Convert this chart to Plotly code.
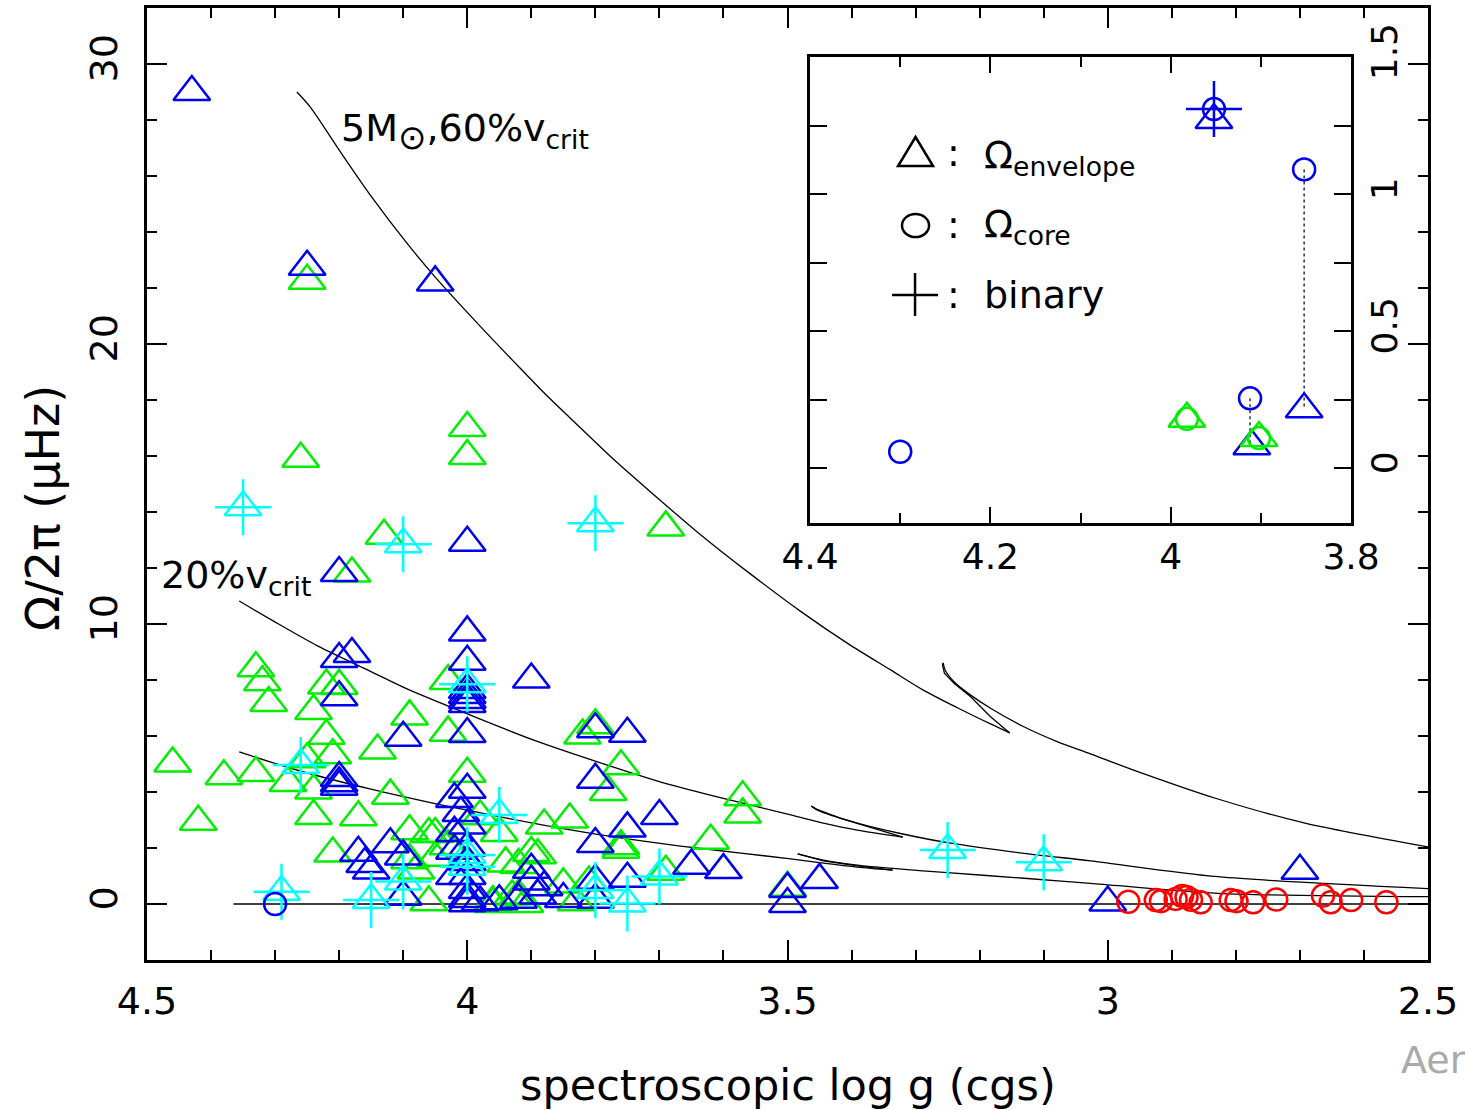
import plotly.graph_objects as go

# ---------------- main panel data (spectroscopic log g, Omega/2pi in microHz) -------------
BLUE_TRI_G = [4.43, 4.25, 4.05, 4.00, 4.20, 4.00, 4.00, 4.20, 4.18, 3.90, 4.20, 4.00, 4.00, 4.00,
              4.00, 4.00, 4.10, 3.80, 3.75, 4.20, 4.20, 4.20, 4.00, 4.02, 4.01, 4.00, 4.02, 4.00,
              3.80, 3.70, 3.75, 3.80, 4.12, 4.17, 4.16, 4.10, 4.10, 3.90, 3.90, 3.65, 3.60, 3.75,
              3.80, 3.85, 3.80, 3.50, 3.50, 3.45, 3.00, 2.70, 4.00, 4.00, 4.00, 4.00, 4.00, 3.98,
              3.95, 3.92, 3.89, 4.02, 4.02, 4.15, 3.88]
BLUE_TRI_V = [29.0, 22.76, 22.2, 12.9, 11.82, 9.7, 8.65, 8.75, 8.93, 8.02, 7.38, 7.64, 7.46, 7.29,
              7.14, 6.07, 5.94, 6.24, 6.08, 4.5, 4.31, 4.19, 4.08, 3.75, 3.25, 2.8, 2.54, 2.02,
              4.44, 3.14, 2.7, 2.14, 2.13, 1.83, 1.43, 1.7, 0.26, 1.22, 0.8, 1.37, 1.21, 0.9,
              0.83, 0.18, 0.15, 0.54, 0.0, 0.86, 0.05, 1.19, 1.5, 1.0, 0.5, 0.18, 0.03, 0.06,
              0.1, 0.15, 0.3, 1.9, 1.0, 1.2, 0.6]

GREEN_TRI_G = [4.25, 4.26, 4.00, 4.00, 4.13, 3.69, 4.18, 4.33, 4.32, 4.31, 4.22, 4.20, 4.24, 4.22,
               4.21, 4.25, 4.28, 4.24, 4.46, 4.38, 4.33, 4.12, 4.24, 4.17, 4.42, 4.21, 4.09, 4.06,
               4.05, 4.09, 4.08, 4.06, 4.09, 4.03, 4.03, 4.14, 4.00, 3.98, 3.95, 3.88, 3.84, 3.90,
               3.89, 3.92, 4.03, 3.96, 3.93, 3.91, 3.85, 3.81, 3.83, 3.80, 3.82, 3.76, 3.78, 3.57,
               3.57, 3.76, 3.76, 3.62, 3.69, 3.50, 3.96, 3.92, 3.94, 4.05]
GREEN_TRI_V = [22.26, 15.9, 17.0, 16.0, 13.15, 13.45, 11.8, 8.42, 7.92, 7.18, 7.8, 7.79, 6.89, 6.01,
               5.31, 5.17, 4.32, 4.05, 5.02, 4.56, 4.68, 3.87, 3.14, 3.1, 2.94, 1.8, 2.6, 2.5,
               2.5, 1.56, 1.2, 0.06, 6.7, 7.96, 6.12, 5.48, 4.65, 3.13, 2.54, 2.8, 3.02, 1.82,
               1.74, 1.39, 2.06, 0.0, 0.27, 0.0, 0.7, 0.77, 0.06, 6.38, 6.02, 4.92, 4.0, 3.81,
               3.2, 1.94, 2.06, 2.26, 1.15, 0.58, 0.07, 0.3, 1.45, 1.65]

CYAN_BIN_G = [4.35, 4.10, 3.80, 4.00, 4.26, 4.29, 4.15, 4.10, 3.95, 4.00, 4.00, 3.70, 3.75, 3.80,
              3.25, 3.10]
CYAN_BIN_V = [14.17, 12.85, 13.6, 7.85, 4.96, 0.44, 0.14, 0.8, 3.18, 1.75, 1.33, 0.98, 0.02, 0.5,
              1.93, 1.49]

BLUE_CIRC_G = [4.30]
BLUE_CIRC_V = [0.0]

RED_CIRC_G = [2.968, 2.925, 2.917, 2.894, 2.884, 2.877, 2.870, 2.855, 2.808, 2.799, 2.773, 2.737,
              2.664, 2.652, 2.620, 2.565]
RED_CIRC_V = [0.08, 0.14, 0.1, 0.18, 0.29, 0.25, 0.15, 0.06, 0.14, 0.1, 0.06, 0.16, 0.3, 0.06,
              0.14, 0.06]

# ---- model tracks (5 Msun): main-sequence branch, end-of-MS hook, post-MS branch ----
T60_MS_G = [4.266, 4.245, 4.198, 4.147, 4.097, 4.050, 3.980, 3.928, 3.875, 3.823, 3.772, 3.719,
            3.641, 3.558, 3.480, 3.405, 3.339, 3.288, 3.234, 3.183, 3.153]
T60_MS_V = [29.00, 28.46, 26.86, 25.18, 23.68, 22.39, 20.64, 19.39, 18.14, 17.00, 15.89, 14.82,
            13.29, 11.79, 10.46, 9.29, 8.36, 7.64, 7.00, 6.43, 6.11]
T60_HOOK_G = [3.153, 3.183, 3.214, 3.240, 3.255, 3.258, 3.257]
T60_HOOK_V = [6.11, 6.69, 7.40, 7.88, 8.24, 8.54, 8.61]
T60_POST_G = [3.257, 3.254, 3.240, 3.214, 3.183, 3.131, 3.079, 3.027, 2.964, 2.828, 2.692, 2.500]
T60_POST_V = [8.61, 8.36, 7.94, 7.46, 6.99, 6.33, 5.80, 5.36, 4.82, 3.75, 2.89, 2.04]

T20_MS_G = [4.356, 4.303, 4.233, 4.152, 4.094, 4.000, 3.897, 3.792, 3.688, 3.584, 3.495, 3.444,
            3.391, 3.320]
T20_MS_V = [10.82, 10.11, 9.21, 8.32, 7.68, 6.79, 5.86, 5.04, 4.29, 3.68, 3.18, 2.89,
            2.64, 2.39]
T20_HOOK_G = [3.320, 3.365, 3.417, 3.454, 3.463]
T20_HOOK_V = [2.39, 2.70, 3.06, 3.38, 3.50]
T20_POST_G = [3.463, 3.454, 3.391, 3.320, 3.250, 3.131, 3.027, 2.828, 2.500]
T20_POST_V = [3.50, 3.36, 2.89, 2.50, 2.19, 1.81, 1.54, 0.975, 0.55]

T10_MS_G = [4.356, 4.261, 4.152, 4.047, 3.948, 3.855, 3.761, 3.667, 3.573, 3.495, 3.444, 3.391,
            3.336]
T10_MS_V = [5.43, 4.75, 4.11, 3.57, 3.11, 2.71, 2.36, 2.07, 1.82, 1.61, 1.46, 1.32, 1.21]
T10_HOOK_G = [3.336, 3.391, 3.444, 3.484]
T10_HOOK_V = [1.21, 1.36, 1.54, 1.79]
T10_POST_G = [3.484, 3.444, 3.391, 3.336, 3.250, 3.131, 3.027, 2.828, 2.500]
T10_POST_V = [1.79, 1.57, 1.39, 1.27, 1.12, 0.92, 0.74, 0.38, 0.26]

T0_G = [4.365, 2.500]
T0_V = [0.0, 0.0]

# ---------------- inset data -------------
IN_BLUE_TRI_G = [3.952, 3.852, 3.910]
IN_BLUE_TRI_V = [1.27, 0.215, 0.08]
IN_BLUE_CIRC_G = [4.300, 3.952, 3.852, 3.912]
IN_BLUE_CIRC_V = [0.06, 1.31, 1.09, 0.255]
IN_BLUE_BIN_G = [3.952]
IN_BLUE_BIN_V = [1.31]
IN_GREEN_G = [3.982, 3.902]
IN_GREEN_TRI_V = [0.18, 0.11]
IN_GREEN_CIRC_V = [0.18, 0.11]
# core-envelope pairs joined by dotted lines
PAIR_G = [3.852, 3.912]
PAIR_CORE = [1.09, 0.255]
PAIR_ENV = [0.215, 0.08]

BLUE = "#0000f0"
GREEN = "#00ee00"
CYAN = "#00ffff"
RED = "#ff0000"
FONT = "DejaVu Sans"

TRI = 32
CIR = 22
CRS = 40
LW = 2.5

fig = go.Figure()

smooth_segments = [(T60_MS_G, T60_MS_V), (T60_POST_G, T60_POST_V),
                   (T20_MS_G, T20_MS_V), (T20_POST_G, T20_POST_V),
                   (T10_MS_G, T10_MS_V), (T10_POST_G, T10_POST_V)]
hook_segments = [(T60_HOOK_G, T60_HOOK_V), (T20_HOOK_G, T20_HOOK_V), (T10_HOOK_G, T10_HOOK_V),
                 (T0_G, T0_V)]
for g, v in smooth_segments:
    fig.add_trace(go.Scatter(x=g, y=v, mode="lines",
                             line=dict(color="black", width=1.3, shape="spline", smoothing=0.8),
                             hoverinfo="skip", showlegend=False))
for g, v in hook_segments:
    fig.add_trace(go.Scatter(x=g, y=v, mode="lines", line=dict(color="black", width=1.3),
                             hoverinfo="skip", showlegend=False))


def mk(symbol, color, size):
    return dict(symbol=symbol, size=size, color=color, line=dict(color=color, width=LW))


fig.add_trace(go.Scatter(x=GREEN_TRI_G, y=GREEN_TRI_V, mode="markers",
                         marker=mk("triangle-up-open", GREEN, TRI)))
fig.add_trace(go.Scatter(x=BLUE_TRI_G, y=BLUE_TRI_V, mode="markers",
                         marker=mk("triangle-up-open", BLUE, TRI)))
fig.add_trace(go.Scatter(x=CYAN_BIN_G, y=CYAN_BIN_V, mode="markers",
                         marker=mk("triangle-up-open", CYAN, TRI)))
fig.add_trace(go.Scatter(x=CYAN_BIN_G, y=CYAN_BIN_V, mode="markers",
                         marker=mk("cross-thin-open", CYAN, CRS)))
fig.add_trace(go.Scatter(x=BLUE_CIRC_G, y=BLUE_CIRC_V, mode="markers",
                         marker=mk("circle-open", BLUE, CIR)))
fig.add_trace(go.Scatter(x=RED_CIRC_G, y=RED_CIRC_V, mode="markers",
                         marker=mk("circle-open", RED, CIR)))

# inset traces
for gg, a, b in zip(PAIR_G, PAIR_CORE, PAIR_ENV):
    fig.add_trace(go.Scatter(x=[gg, gg], y=[a, b], mode="lines", xaxis="x2", yaxis="y2",
                             line=dict(color="black", width=1.2, dash="dot")))
fig.add_trace(go.Scatter(x=IN_BLUE_TRI_G, y=IN_BLUE_TRI_V, mode="markers", xaxis="x2", yaxis="y2",
                         marker=mk("triangle-up-open", BLUE, TRI)))
fig.add_trace(go.Scatter(x=IN_BLUE_CIRC_G, y=IN_BLUE_CIRC_V, mode="markers", xaxis="x2", yaxis="y2",
                         marker=mk("circle-open", BLUE, CIR)))
fig.add_trace(go.Scatter(x=IN_BLUE_BIN_G, y=IN_BLUE_BIN_V, mode="markers", xaxis="x2", yaxis="y2",
                         marker=mk("cross-thin-open", BLUE, CRS)))
fig.add_trace(go.Scatter(x=IN_GREEN_G, y=IN_GREEN_TRI_V, mode="markers", xaxis="x2", yaxis="y2",
                         marker=mk("triangle-up-open", GREEN, TRI)))
fig.add_trace(go.Scatter(x=IN_GREEN_G, y=IN_GREEN_CIRC_V, mode="markers", xaxis="x2", yaxis="y2",
                         marker=mk("circle-open", GREEN, CIR)))

axis_common = dict(showline=True, linewidth=2.5, linecolor="black", mirror="ticks",
                   showgrid=False, zeroline=False, ticks="inside", tickcolor="black",
                   tickwidth=2, automargin=False)

fig.update_layout(
    width=1465, height=1110,
    margin=dict(l=147, r=37, t=8, b=150, autoexpand=False),
    paper_bgcolor="white", plot_bgcolor="white",
    showlegend=False,
    font=dict(family=FONT, color="black", size=38),
    xaxis=dict(range=[4.5, 2.5], domain=[0, 1], anchor="y", tickmode="linear", tick0=2.5,
               dtick=0.5, ticklen=20,
               minor=dict(tickmode="linear", tick0=2.5, dtick=0.1, ticks="inside", ticklen=10,
                          tickwidth=2, tickcolor="black", showgrid=False),
               tickfont=dict(size=38), ticklabelstandoff=6, **axis_common),
    yaxis=dict(range=[-2, 32], domain=[0, 1], anchor="x", tickmode="linear", tick0=0, dtick=10,
               ticklen=20, tickangle=-90,
               minor=dict(tickmode="linear", tick0=0, dtick=2, ticks="inside", ticklen=10,
                          tickwidth=2, tickcolor="black", showgrid=False),
               tickfont=dict(size=38), ticklabelstandoff=12, **axis_common),
    xaxis2=dict(range=[4.4, 3.8], domain=[0.5176, 0.9399], anchor="y2", tickmode="linear",
                tick0=3.8, dtick=0.2, ticklen=16,
                minor=dict(tickmode="linear", tick0=3.8, dtick=0.1, ticks="inside", ticklen=10,
                           tickwidth=2, tickcolor="black", showgrid=False),
                tickfont=dict(size=36), ticklabelstandoff=0, **axis_common),
    yaxis2=dict(range=[-0.2, 1.5], domain=[0.459, 0.9485], anchor="x2", side="right",
                tickmode="array", tickvals=[0, 0.25, 0.5, 0.75, 1.0, 1.25, 1.5],
                ticktext=["0", "", "0.5", "", "1", "", "1.5"], ticklen=17, tickangle=-90,
                tickfont=dict(size=36), ticklabelstandoff=0, **axis_common),
)

ann = []
# axis titles
ann.append(dict(text="spectroscopic log g (cgs)", xref="paper", yref="paper", x=0.5, y=-0.1313,
                xanchor="center", yanchor="middle", showarrow=False, font=dict(size=43)))
ann.append(dict(text="Ω/2π (μHz)", xref="paper", yref="paper", x=-0.0812, y=0.4748,
                xanchor="center", yanchor="middle", textangle=-90, showarrow=False,
                font=dict(size=46)))
# track labels
ann.append(dict(text="5M<sub><span style='font-size:34px'>⊙</span></sub>,60%v<sub>crit</sub>",
                xref="x", yref="y", x=4.20, y=27.6,
                xanchor="left", yanchor="middle", showarrow=False, font=dict(size=38)))
ann.append(dict(text="20%v<sub>crit</sub>", xref="x", yref="y", x=4.482, y=11.65,
                xanchor="left", yanchor="middle", showarrow=False, font=dict(size=38)))
# inset key text
for yy in [0.794, 0.6395, 0.4893]:
    ann.append(dict(text=":", xref="x2 domain", yref="y2 domain", x=0.2643, y=yy,
                    xanchor="center", yanchor="middle", showarrow=False, font=dict(size=38)))
ann.append(dict(text="Ω<sub>envelope</sub>", xref="x2 domain", yref="y2 domain", x=0.317, y=0.785,
                xanchor="left", yanchor="middle", showarrow=False, font=dict(size=38)))
ann.append(dict(text="Ω<sub>core</sub>", xref="x2 domain", yref="y2 domain", x=0.317, y=0.636,
                xanchor="left", yanchor="middle", showarrow=False, font=dict(size=38)))
ann.append(dict(text="binary", xref="x2 domain", yref="y2 domain", x=0.317, y=0.489,
                xanchor="left", yanchor="middle", showarrow=False, font=dict(size=38)))
# watermark fragment
ann.append(dict(text="Aer", xref="paper", yref="paper", x=0.9774, y=-0.105, xanchor="left",
                yanchor="middle", showarrow=False, font=dict(size=38, color="#aaaaaa")))
fig.update_layout(annotations=ann)

# inset key symbols
key_line = dict(color="black", width=2.5)
shapes = [
    dict(type="path", xref="x2 domain", yref="y2 domain",
         path="M 0.1627 0.7661 L 0.2274 0.7661 L 0.195 0.8283 Z", line=key_line),
    dict(type="circle", xref="x2 domain", yref="y2 domain", x0=0.170, x1=0.220, y0=0.6137,
         y1=0.6631, line=key_line),
    dict(type="line", xref="x2 domain", yref="y2 domain", x0=0.1516, x1=0.2366, y0=0.4893,
         y1=0.4893, line=key_line),
    dict(type="line", xref="x2 domain", yref="y2 domain", x0=0.1941, x1=0.1941, y0=0.4442,
         y1=0.5365, line=key_line),
]
fig.update_layout(shapes=shapes)

fig.write_html("out.html")
